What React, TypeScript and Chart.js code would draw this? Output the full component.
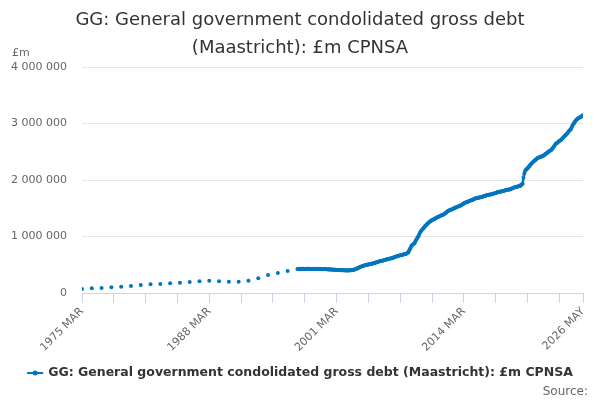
import React, { useEffect, useRef } from "react";
import { Chart, registerables } from "chart.js";

Chart.register(...registerables);

// ---------- DATA (values in £bn; plotted as £m) ----------
const MONTH_NAMES = ["JAN", "FEB", "MAR", "APR", "MAY", "JUN", "JUL", "AUG", "SEP", "OCT", "NOV", "DEC"];
const FIRST_YEAR = 1975;
const FIRST_MONTH = 2; // MAR
const LAST_INDEX = 614; // 2026 MAY
const TICK_INDEXES = [0, 39, 78, 117, 156, 195, 234, 273, 312, 351, 390, 429, 468, 507, 546, 585, 614];
const LABEL_INDEXES = [0, 156, 312, 468, 614];
const Y_TICKS = [0, 1000000, 2000000, 3000000, 4000000];

// Annual (March) observations 1975..1996
const annualYears = [1975, 1976, 1977, 1978, 1979, 1980, 1981, 1982, 1983, 1984, 1985, 1986, 1987, 1988, 1989, 1990, 1991, 1992, 1993, 1994, 1995, 1996];
const annualValues = [71, 83, 89, 101, 112, 124, 142, 154, 160, 171, 183, 195, 207, 219, 207, 201, 201, 219, 260, 319, 354, 389];

// Monthly observations from 1997 MAR
const monthlyStartYear = 1997;
const monthlyStartMonth = 2; // MAR
const m1997 = [424, 427, 425, 426, 429, 426, 424, 427, 428, 425];
const m1998 = [426, 428, 424, 427, 428, 425, 423, 426, 428, 424, 425, 427];
const m1999 = [424, 426, 423, 425, 427, 423, 424, 426, 422, 421, 424, 423];
const m2000 = [422, 420, 419, 421, 418, 417, 419, 416, 413, 415, 414, 411];
const m2001 = [410, 411, 408, 407, 409, 405, 403, 405, 402, 401, 403, 401];
const m2002 = [400, 402, 399, 401, 399, 400, 402, 401, 404, 406, 408, 412];
const m2003 = [418, 422, 428, 434, 440, 446, 455, 460, 466, 472, 477, 482];
const m2004 = [487, 490, 495, 498, 501, 505, 508, 512, 515, 518, 522, 525];
const m2005 = [528, 532, 540, 545, 549, 553, 557, 561, 565, 569, 572, 575];
const m2006 = [578, 582, 588, 592, 596, 600, 604, 607, 611, 615, 619, 624];
const m2007 = [628, 635, 642, 646, 650, 654, 658, 662, 666, 670, 674, 678];
const m2008 = [682, 686, 692, 696, 700, 712, 722, 755, 785, 815, 838, 852];
const m2009 = [865, 878, 900, 925, 950, 975, 1000, 1030, 1060, 1090, 1108, 1125];
const m2010 = [1140, 1155, 1175, 1190, 1205, 1222, 1235, 1248, 1260, 1270, 1280, 1290];
const m2011 = [1298, 1305, 1314, 1320, 1328, 1335, 1343, 1350, 1357, 1364, 1370, 1376];
const m2012 = [1382, 1390, 1400, 1410, 1422, 1435, 1448, 1455, 1462, 1468, 1474, 1480];
const m2013 = [1486, 1492, 1500, 1507, 1513, 1519, 1525, 1531, 1537, 1543, 1549, 1558];
const m2014 = [1566, 1575, 1588, 1595, 1600, 1606, 1612, 1618, 1624, 1630, 1636, 1640];
const m2015 = [1645, 1650, 1658, 1668, 1672, 1676, 1680, 1684, 1688, 1690, 1694, 1696];
const m2016 = [1700, 1705, 1712, 1718, 1722, 1726, 1730, 1735, 1738, 1740, 1742, 1745];
const m2017 = [1748, 1752, 1758, 1762, 1766, 1770, 1776, 1785, 1788, 1790, 1792, 1795];
const m2018 = [1798, 1800, 1806, 1810, 1814, 1818, 1822, 1826, 1828, 1830, 1834, 1836];
const m2019 = [1845, 1850, 1858, 1864, 1870, 1873, 1876, 1880, 1884, 1888, 1892, 1896];
const m2020 = [1915, 1922, 1935, 2040, 2110, 2160, 2180, 2195, 2205, 2225, 2245, 2262];
const m2021 = [2280, 2292, 2310, 2325, 2338, 2350, 2360, 2370, 2385, 2392, 2398, 2405];
const m2022 = [2410, 2415, 2422, 2428, 2435, 2445, 2458, 2470, 2480, 2495, 2505, 2515];
const m2023 = [2522, 2532, 2548, 2565, 2585, 2605, 2630, 2645, 2655, 2665, 2680, 2690];
const m2024 = [2700, 2710, 2725, 2740, 2755, 2770, 2786, 2800, 2815, 2830, 2850, 2870];
const m2025 = [2885, 2900, 2930, 2960, 2985, 3010, 3030, 3050, 3068, 3080, 3095, 3100];
const m2026 = [3108, 3115, 3125, 3135, 3145];

const SERIES_LABEL = "GG: General government condolidated gross debt (Maastricht): £m CPNSA";
const TITLE_LINES = ["GG: General government condolidated gross debt", "(Maastricht): £m CPNSA"];
const Y_UNIT = "£m";
const SOURCE_TEXT = "Source:";

// ---------- helpers ----------
const monthIndex = (year: number, month: number) => (year - FIRST_YEAR) * 12 + (month - FIRST_MONTH);
const indexLabel = (idx: number) => {
  const total = FIRST_MONTH + idx;
  const y = FIRST_YEAR + Math.floor(total / 12);
  return `${y} ${MONTH_NAMES[total % 12]}`;
};
const fmtSpace = (v: number) => String(Math.round(v)).replace(/\B(?=(\d{3})+(?!\d))/g, " ");

const COLOR = "#0076c0";
const FONT = '"DejaVu Sans", sans-serif';

function buildAll() {
  const pts: { x: number; y: number | null }[] = [];
  annualYears.forEach((yr, i) => {
    const idx = monthIndex(yr, 2);
    pts.push({ x: idx, y: annualValues[i] * 1000 });
    pts.push({ x: idx + 1, y: null });
  });
  const monthly = ([] as number[]).concat(
    m1997, m1998, m1999, m2000, m2001, m2002, m2003, m2004, m2005, m2006,
    m2007, m2008, m2009, m2010, m2011, m2012, m2013, m2014, m2015, m2016,
    m2017, m2018, m2019, m2020, m2021, m2022, m2023, m2024, m2025, m2026
  );
  const start = monthIndex(monthlyStartYear, monthlyStartMonth);
  monthly.forEach((v, i) => pts.push({ x: start + i, y: v * 1000 }));
  return pts;
}

const decorPlugin = {
  id: "decor",
  afterDraw(chart: any) {
    const ctx = chart.ctx as CanvasRenderingContext2D;
    ctx.save();
    // Title
    ctx.fillStyle = "#333333";
    ctx.font = `18px ${FONT}`;
    ctx.textAlign = "center";
    ctx.textBaseline = "alphabetic";
    ctx.fillText(TITLE_LINES[0], 300, 25);
    ctx.fillText(TITLE_LINES[1], 300, 53);
    // Unit
    ctx.fillStyle = "#666666";
    ctx.font = `11px ${FONT}`;
    ctx.textAlign = "left";
    ctx.fillText(Y_UNIT, 12, 56);
    // Legend
    ctx.font = `bold 12.5px ${FONT}`;
    const w = ctx.measureText(SERIES_LABEL).width;
    const total = 16 + 5 + w;
    const sx = 300 - total / 2;
    const ly = 373;
    ctx.strokeStyle = COLOR;
    ctx.lineWidth = 2;
    ctx.beginPath();
    ctx.moveTo(sx, ly);
    ctx.lineTo(sx + 16, ly);
    ctx.stroke();
    ctx.fillStyle = COLOR;
    ctx.beginPath();
    ctx.arc(sx + 8, ly, 2.5, 0, Math.PI * 2);
    ctx.fill();
    ctx.fillStyle = "#333333";
    ctx.textBaseline = "middle";
    ctx.fillText(SERIES_LABEL, sx + 21, ly);
    // Source
    ctx.fillStyle = "#666666";
    ctx.font = `12px ${FONT}`;
    ctx.textAlign = "right";
    ctx.textBaseline = "alphabetic";
    ctx.fillText(SOURCE_TEXT, 588, 395);
    ctx.restore();
  },
};

export default function App() {
  const ref = useRef<HTMLCanvasElement | null>(null);
  useEffect(() => {
    if (!ref.current) return;
    const chart = new Chart(ref.current, {
      type: "line",
      data: {
        datasets: [
          {
            label: SERIES_LABEL,
            data: buildAll() as any,
            borderColor: COLOR,
            backgroundColor: COLOR,
            borderWidth: 2.5,
            pointRadius: 2,
            pointBorderWidth: 0,
            pointHoverRadius: 2,
            pointBackgroundColor: COLOR,
            spanGaps: false,
            tension: 0,
          },
        ],
      },
      options: {
        animation: false,
        responsive: false,
        parsing: false as any,
        normalized: true,
        layout: { padding: { top: 67, right: 17, bottom: 0, left: 0 } },
        plugins: {
          legend: { display: false },
          title: { display: false },
          tooltip: { enabled: false },
        },
        scales: {
          x: {
            type: "linear",
            min: 0,
            max: LAST_INDEX,
            afterBuildTicks: (s: any) => {
              s.ticks = TICK_INDEXES.map((v) => ({ value: v }));
            },
            afterFit: (s: any) => {
              s.height = 107;
              s.paddingLeft = 0;
              s.paddingRight = 0;
            },
            ticks: {
              autoSkip: false,
              minRotation: 45,
              maxRotation: 45,
              padding: 2,
              color: "#666666",
              font: { family: FONT, size: 11 },
              callback: (v: any) => (LABEL_INDEXES.includes(Number(v)) ? indexLabel(Number(v)) : ""),
            },
            grid: { drawOnChartArea: false, drawTicks: true, tickLength: 10, color: "#ccd6eb", lineWidth: 1 },
            border: { display: true, color: "#ccd6eb", width: 1 },
          },
          y: {
            min: 0,
            max: 4000000,
            afterBuildTicks: (s: any) => {
              s.ticks = Y_TICKS.map((v) => ({ value: v }));
            },
            afterFit: (s: any) => {
              s.width = 82;
            },
            ticks: {
              padding: 15,
              color: "#666666",
              font: { family: FONT, size: 11 },
              callback: (v: any) => fmtSpace(Number(v)),
            },
            grid: { color: "#e6e6e6", drawTicks: false, lineWidth: 1 },
            border: { display: false },
          },
        },
      },
      plugins: [decorPlugin],
    });
    return () => chart.destroy();
  }, []);
  return (
    <div style={{ position: "absolute", left: 0, top: 0, width: 600, height: 400, background: "#fff" }}>
      <canvas ref={ref} width={600} height={400} style={{ width: 600, height: 400, display: "block" }} />
    </div>
  );
}
